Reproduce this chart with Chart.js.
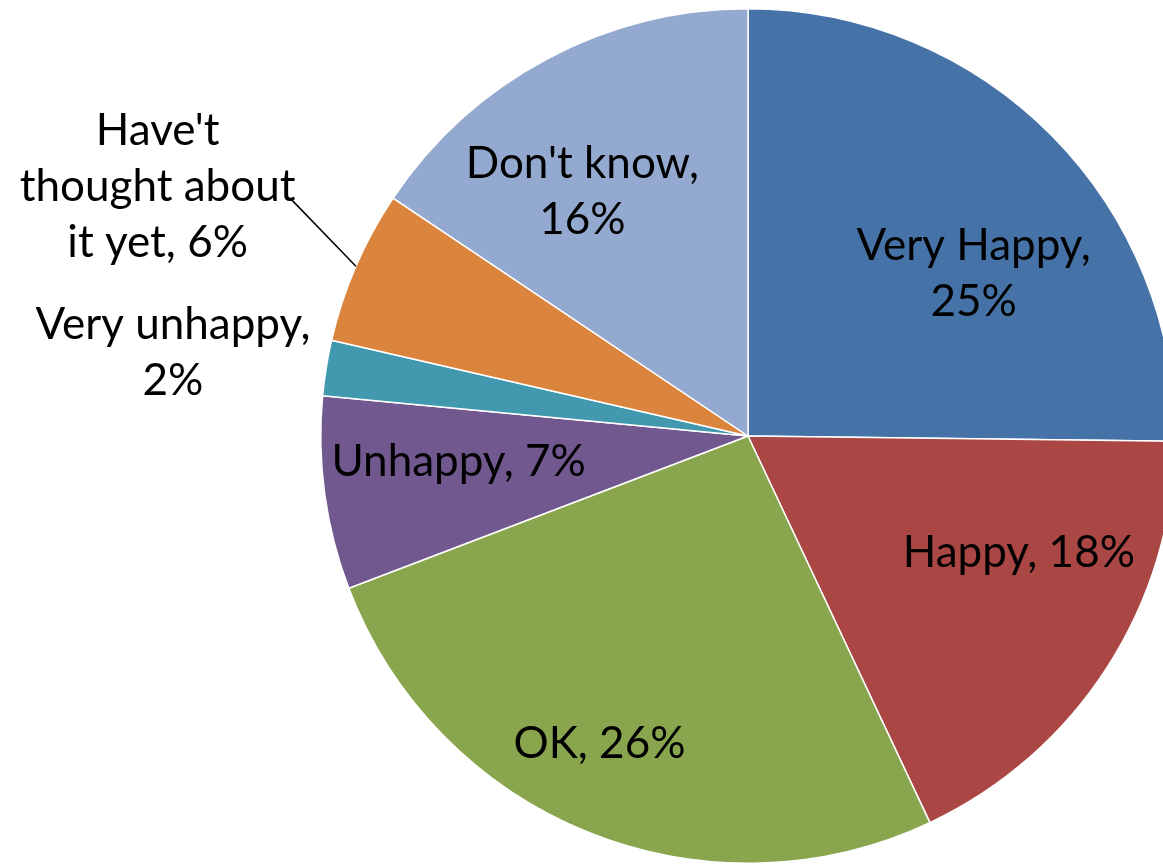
<!DOCTYPE html>
<html>
<head>
<meta charset="utf-8">
<script src="https://cdn.jsdelivr.net/npm/chart.js@4.4.1/dist/chart.umd.min.js"></script>
<style>
  html, body { margin: 0; padding: 0; background: #fff; overflow: hidden; }
  #wrap { position: absolute; left: 0; top: 0; width: 1200px; height: 864px; }
</style>
</head>
<body>
<div id="wrap"><canvas id="pieChart" width="1200" height="864"></canvas></div>
<script>
// Survey answers
const categories = ['Very Happy', 'Happy', 'OK', 'Unhappy', 'Very unhappy', "Have't thought about it yet", "Don't know"];
const shares = [25.2, 17.8, 26.2, 7.3, 2.1, 5.8, 15.6];
const sliceColors = ['#4572A7', '#AA4643', '#89A54E', '#71588F', '#4198AF', '#DB843D', '#93A9CF'];

// How each label is broken into lines (the percent is filled in from the data)
const labelLines = [
  ['Very Happy,', '{p}'],
  ['Happy, {p}'],
  ['OK, {p}'],
  ['Unhappy, {p}'],
  ['Very unhappy,', '{p}'],
  ["Have't", 'thought about', 'it yet, {p}'],
  ["Don't know,", '{p}']
];

// label placement: [fraction of radius, angle shift in degrees from slice middle]
const labelPlace = [
  [0.65, 9], [0.69, -9.5], [0.80, 3.8], [0.68, 2.6],
  [1.36, -0.9], [1.50, -0.5], [0.69, -6.1]
];
const leaderFor = 5; // only this label gets a leader line

const FONT = '44px Lato, "Liberation Sans", sans-serif';
const LINE_H = 56;

const labelPlugin = {
  id: 'sliceLabels',
  afterDatasetsDraw(chart) {
    const ctx = chart.ctx;
    const meta = chart.getDatasetMeta(0);
    ctx.save();
    ctx.font = FONT;
    ctx.fillStyle = '#000';
    ctx.textAlign = 'center';
    ctx.textBaseline = 'middle';

    meta.data.forEach((arc, i) => {
      const pct = Math.round(shares[i]) + '%';
      const lines = labelLines[i].map(t => t.replace('{p}', pct));
      const mid = (arc.startAngle + arc.endAngle) / 2;
      const a = mid + labelPlace[i][1] * Math.PI / 180;
      const r = arc.outerRadius * labelPlace[i][0];
      const x = arc.x + Math.cos(a) * r;
      const y = arc.y + Math.sin(a) * r;
      const top = y - (lines.length - 1) * LINE_H / 2;

      lines.forEach((line, k) => ctx.fillText(line, x, top + k * LINE_H));

      if (i === leaderFor) {
        // line from end of the middle text line to the slice edge
        const w = ctx.measureText(lines[1]).width;
        const sx = x + w / 2 - 4;
        const sy = top + LINE_H + 13;
        const ex = arc.x + Math.cos(mid) * arc.outerRadius;
        const ey = arc.y + Math.sin(mid) * arc.outerRadius;
        ctx.beginPath();
        ctx.moveTo(sx, sy);
        ctx.lineTo(ex, ey);
        ctx.strokeStyle = '#000';
        ctx.lineWidth = 1.5;
        ctx.stroke();
      }
    });
    ctx.restore();
  }
};

new Chart(document.getElementById('pieChart'), {
  type: 'pie',
  data: {
    labels: categories,
    datasets: [{
      data: shares,
      backgroundColor: sliceColors,
      borderColor: '#ffffff',
      borderWidth: 1.5,
      hoverOffset: 0
    }]
  },
  options: {
    responsive: false,
    animation: false,
    layout: {
      padding: { left: 319, right: 23, top: 8, bottom: 0 }
    },
    plugins: {
      legend: { display: false },
      tooltip: { enabled: false }
    }
  },
  plugins: [labelPlugin]
});
</script>
</body>
</html>
